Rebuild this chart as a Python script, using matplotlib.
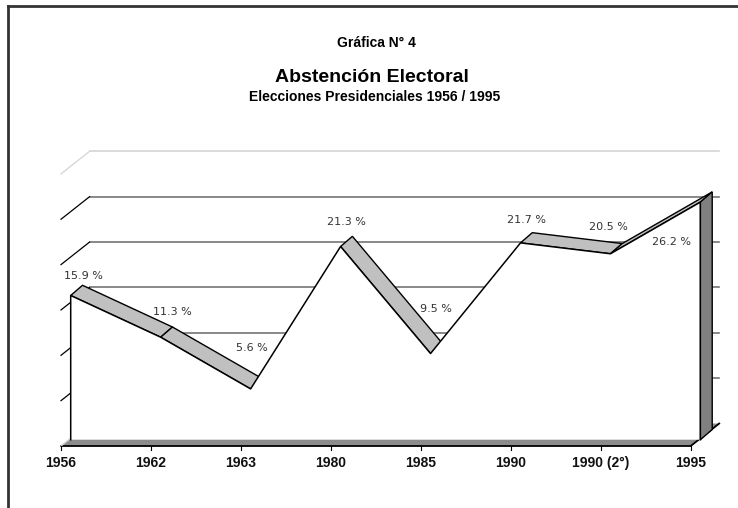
import numpy as np
import matplotlib.pyplot as plt
from matplotlib.patches import Polygon
from matplotlib.lines import Line2D

# Data
categories = ['1956', '1962', '1963', '1980', '1985', '1990', '1990 (2°)', '1995']
abstention = [15.9, 11.3, 5.6, 21.3, 9.5, 21.7, 20.5, 26.2]
grid_values = [5, 10, 15, 20, 25, 30]

# label offsets from the front edge of the ribbon, in pixels
label_offsets = [(13, 19), (12, 25), (1, 41), (6, 25), (5, 45), (6, 23), (-2, 27), (-29, -40)]

W, H = 738, 508
CAT_PX, PCT_PX = 89.96, 9.07   # pixels per category / per percent
X0_PX, Y0_PX = 61, 62          # front-left corner of the floor

fig = plt.figure(figsize=(W / 100, H / 100), dpi=100)
ax = fig.add_axes([0, 0, 1, 1])
ax.set_axis_off()
ax.set_xlim(-X0_PX / CAT_PX, (W - X0_PX) / CAT_PX)
ax.set_ylim(-Y0_PX / PCT_PX, (H - Y0_PX) / PCT_PX)


def shift(px, py):
    return np.array([px / CAT_PX, py / PCT_PX])


depth = shift(28.5, 22.5)   # front plane -> back wall
front = shift(9.7, 6.3)     # front of the ribbon
back = shift(21.5, 16.5)    # back of the ribbon

x = np.arange(len(categories), dtype=float)
y = np.array(abstention)
xmax = x[-1]

# Back wall and left wall gridlines
for g in grid_values:
    col = '#d4d4d4' if g == grid_values[-1] else '#747474'
    ax.plot([depth[0], xmax + depth[0]], [g + depth[1]] * 2, color=col,
            lw=1.2, zorder=1)
    ax.plot([0, depth[0]], [g, g + depth[1]],
            color='#d4d4d4' if g == grid_values[-1] else 'black', lw=0.9, zorder=1)

# Floor
floor = Polygon([(0, 0), (xmax, 0), (xmax + depth[0], depth[1]), (depth[0], depth[1])],
                closed=True, fc='#8c8c8c', ec='none', zorder=2)
ax.add_patch(floor)
ax.plot([0, xmax, xmax + depth[0]], [0, 0, depth[1]], color='black', lw=1.3, zorder=2)
ax.plot([0, depth[0] * 0.35], [0, depth[1] * 0.35], color='#d0d0d0', lw=1, zorder=2)

# Category ticks and labels
for i, lab in enumerate(categories):
    ax.plot([x[i], x[i]], [0, -4 / PCT_PX], color='black', lw=0.8, zorder=2)
    ax.text(x[i], -17 / PCT_PX, lab, ha='center', va='center', fontsize=10,
            fontweight='bold', family='Liberation Sans', color='#111111')

# Top ribbon surfaces (only the ones facing the viewer)
off_px = np.array([(back[0] - front[0]) * CAT_PX, (back[1] - front[1]) * PCT_PX])
for i in range(len(x) - 1):
    d = np.array([(x[i + 1] - x[i]) * CAT_PX, (y[i + 1] - y[i]) * PCT_PX])
    if d[0] * off_px[1] - d[1] * off_px[0] <= 0:
        continue
    quad = [(x[i] + front[0], y[i] + front[1]),
            (x[i + 1] + front[0], y[i + 1] + front[1]),
            (x[i + 1] + back[0], y[i + 1] + back[1]),
            (x[i] + back[0], y[i] + back[1])]
    ax.add_patch(Polygon(quad, closed=True, fc='#c0c0c0', ec='black', lw=1,
                         joinstyle='miter', zorder=3))

# Front face of the area
fx = x + front[0]
fy = y + front[1]
face = list(zip(fx, fy)) + [(fx[-1], front[1]), (fx[0], front[1])]
ax.add_patch(Polygon(face, closed=True, fc='white', ec='none', zorder=4))
ax.plot(np.r_[fx[0], fx, fx[-1]], np.r_[front[1], fy, front[1]],
        color='black', lw=1.1, zorder=5)

# Right side face
side = [(fx[-1], fy[-1]), (xmax + back[0], y[-1] + back[1]),
        (xmax + back[0], back[1]), (fx[-1], front[1])]
ax.add_patch(Polygon(side, closed=True, fc='#808080', ec='black', lw=1, zorder=5))

# Value labels
for i, v in enumerate(abstention):
    ax.annotate(f'{v} %', xy=(fx[i], fy[i]), xytext=label_offsets[i],
                textcoords='offset pixels', ha='center', va='center',
                fontsize=8, color='#333333', family='DejaVu Sans', zorder=6)

# Titles
fig.text(376 / W, 1 - 43 / H, 'Gráfica N° 4', ha='center', va='center',
         fontsize=10, fontweight='bold', family='Liberation Sans')
fig.text(372 / W, 1 - 77 / H, 'Abstención Electoral', ha='center', va='center',
         fontsize=14, fontweight='bold', family='Liberation Sans')
fig.text(375 / W, 1 - 97 / H, 'Elecciones Presidenciales 1956 / 1995', ha='center',
         va='center', fontsize=10, fontweight='bold', family='Liberation Sans')

# Outer frame
fig.add_artist(Line2D([8 / W, 8 / W], [0, 1 - 6 / H], transform=fig.transFigure,
                      color='#333333', lw=2))
fig.add_artist(Line2D([8 / W, 1], [1 - 6 / H, 1 - 6 / H], transform=fig.transFigure,
                      color='#333333', lw=2))

fig.savefig('out.png', dpi=100)
